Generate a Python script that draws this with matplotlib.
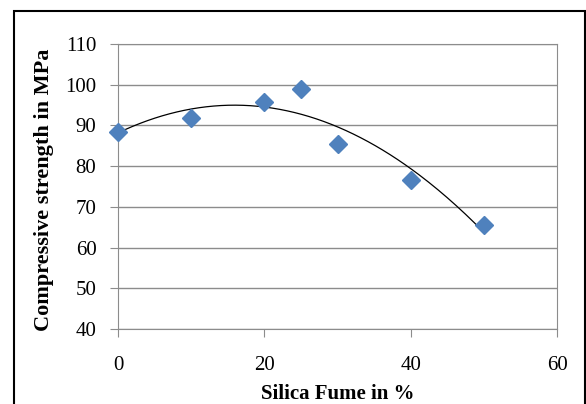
import numpy as np
import matplotlib.pyplot as plt
from matplotlib.patches import Rectangle

# Data
silica_fume = [0, 10, 20, 25, 30, 40, 50]
strength = [88.4, 91.8, 95.8, 98.9, 85.4, 76.5, 65.5]
x_ticks = [0, 20, 40, 60]
y_ticks = [40, 50, 60, 70, 80, 90, 100, 110]

plt.rcParams['font.family'] = ['Liberation Serif', 'DejaVu Serif']

fig = plt.figure(figsize=(5.86, 4.04), dpi=100)
ax = fig.add_axes([118 / 586, 1 - 329 / 404, (557 - 118) / 586, (329 - 44) / 404])

# 2nd order polynomial trendline
coef = np.polyfit(silica_fume, strength, 2)
xs = np.linspace(min(silica_fume), max(silica_fume), 200)
ax.plot(xs, np.polyval(coef, xs), color='black', lw=0.9, zorder=2)

ax.plot(silica_fume, strength, linestyle='none', marker='D', markersize=9,
        color='#4F81BD', markeredgecolor='#4F81BD', zorder=3, clip_on=False)

ax.set_xlim(0, 60)
ax.set_ylim(40, 110)
ax.set_xticks(x_ticks)
ax.set_yticks(y_ticks)
ax.yaxis.grid(True, color='#8c8c8c', lw=1)
ax.set_axisbelow(True)
for s in ax.spines.values():
    s.set_color('#8c8c8c')
ax.tick_params(axis='both', colors='#8c8c8c', labelcolor='black', labelsize=15, length=5.5)
ax.tick_params(axis='x', pad=14)
ax.tick_params(axis='y', pad=10)

ax.set_xlabel('Silica Fume in %', fontsize=15, fontweight='bold')
ax.set_ylabel('Compressive strength in MPa', fontsize=16, fontweight='bold')
ax.xaxis.set_label_coords(0.5, (329 - 384) / 285)
ax.yaxis.set_label_coords((54 - 118) / 439, 0.49)

# outer chart frame
fig.patches.append(Rectangle((14 / 586, -0.05), (585 - 14) / 586, 1.05 - 11 / 404,
                             transform=fig.transFigure, fill=False, edgecolor='black',
                             lw=1.5, clip_on=False))

fig.savefig('out.png', dpi=100)
